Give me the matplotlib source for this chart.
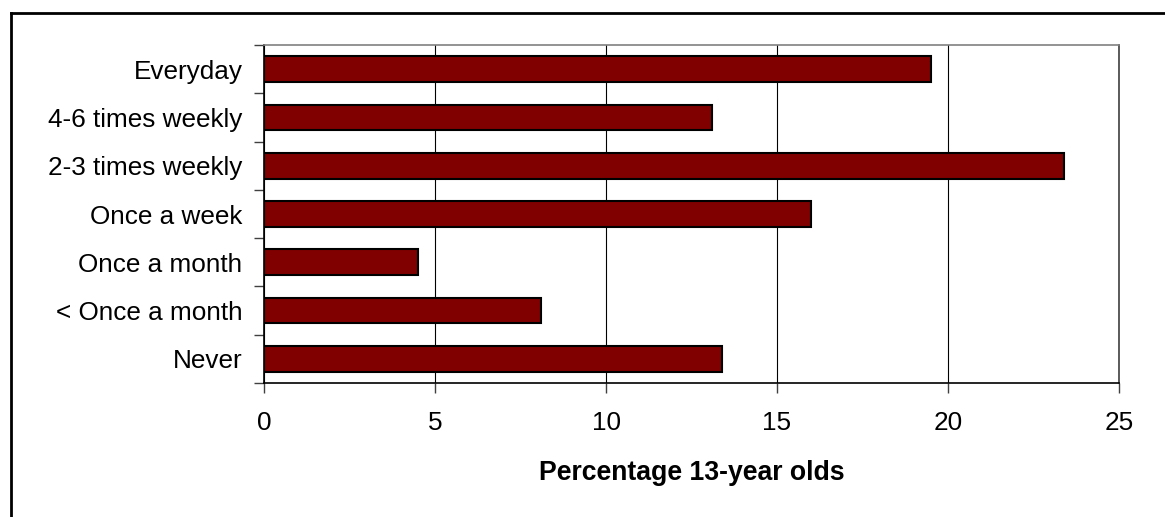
import matplotlib
matplotlib.use('Agg')
import matplotlib.pyplot as plt
from matplotlib.lines import Line2D

plt.rcParams['font.family'] = ['Liberation Sans', 'DejaVu Sans']

# Datos (de arriba hacia abajo)
categories = ['Everyday', '4-6 times weekly', '2-3 times weekly', 'Once a week',
              'Once a month', '< Once a month', 'Never']
values = [19.5, 13.1, 23.4, 16.0, 4.5, 8.1, 13.4]
xticks = [0, 5, 10, 15, 20, 25]
xlabel = 'Percentage 13-year olds'

W, H = 1165, 517
fig = plt.figure(figsize=(W / 100, H / 100), dpi=100)
ax = fig.add_axes([264 / W, 1 - 383 / H, (1119 - 264) / W, (383 - 45) / H])

ypos = list(range(len(categories)))[::-1]
ax.barh(ypos, values, height=0.53, color='#800000', edgecolor='black', linewidth=1.5, zorder=3)

ax.set_xlim(0, 25)
ax.set_ylim(-0.5, len(categories) - 0.5)
ax.set_xticks(xticks)
ax.set_xticklabels([str(t) for t in xticks], fontsize=18.8)
ax.set_yticks(ypos)
ax.set_yticklabels(categories, fontsize=18.8)
ax.tick_params(axis='y', which='major', length=0, pad=15.5)
ax.set_yticks([i - 0.5 for i in range(len(categories) + 1)], minor=True)
ax.tick_params(axis='y', which='minor', length=7, width=1, color='#404040', direction='out')
ax.tick_params(axis='x', length=7, width=1, color='#404040', direction='out', pad=13)

ax.grid(axis='x', color='black', linewidth=0.8, zorder=0)
ax.spines['top'].set_color('#808080')
ax.spines['right'].set_color('#404040')
ax.spines['left'].set_color('black')
ax.spines['bottom'].set_color('black')
for s in ax.spines.values():
    s.set_linewidth(1.2)

ax.set_xlabel(xlabel, fontsize=19.2, fontweight='bold', labelpad=18)

# Borde exterior (solo izquierda y arriba visibles)
fig.add_artist(Line2D([10.5 / W, 10.5 / W], [0, 1 - 13 / H], color='black', linewidth=2, transform=fig.transFigure))
fig.add_artist(Line2D([10.5 / W, 1], [1 - 13 / H, 1 - 13 / H], color='black', linewidth=2, transform=fig.transFigure))

fig.savefig('out.png', dpi=100)
